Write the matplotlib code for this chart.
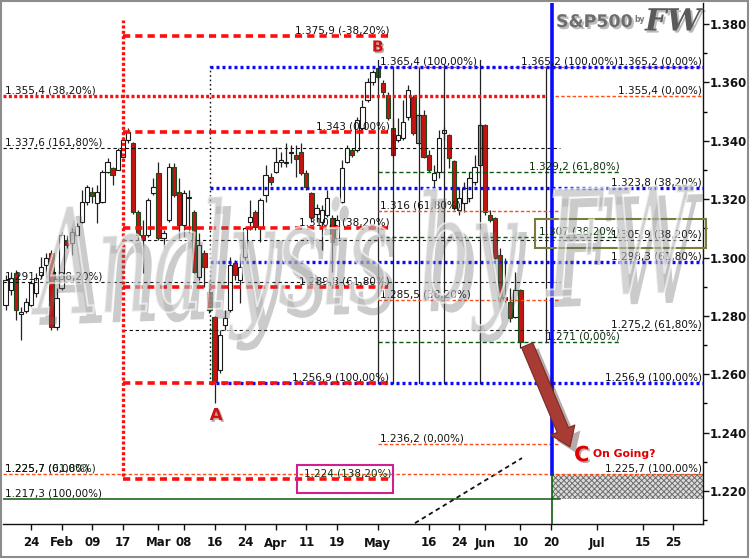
import matplotlib
matplotlib.use('Agg')
import matplotlib.pyplot as plt
import matplotlib.patheffects as pe
import matplotlib.transforms as mtransforms
from matplotlib.patches import Rectangle, PathPatch
from matplotlib.textpath import TextPath
from matplotlib.font_manager import FontProperties
import numpy as np

plt.rcParams['hatch.linewidth'] = 0.7
plt.rcParams['hatch.color'] = '#6e6e6e'

# ---------------- data ----------------
start_index = -5   # trading-day index of first candle (Jan 24 = 0)
opens = [1.2837, 1.2889, 1.2947, 1.2808, 1.2817,
         1.2837, 1.2878, 1.2940, 1.2974, 1.3016, 1.2762, 1.2896, 1.3060, 1.3050, 1.3077,
         1.3122, 1.3190, 1.3224, 1.3187, 1.3190, 1.3293, 1.3307, 1.3300, 1.3344, 1.3403,
         1.3392, 1.3156, 1.3077, 1.3077, 1.3221, 1.3290, 1.3067, 1.3129, 1.3310, 1.3224,
         1.3111, 1.3204, 1.3156, 1.2933, 1.3016, 1.2882, 1.2796, 1.2615, 1.2769, 1.2820,
         1.2981, 1.2923, 1.3002, 1.3122, 1.3156, 1.3104, 1.3214, 1.3276, 1.3293, 1.3327,
         1.3324, 1.3358, 1.3351, 1.3361, 1.3290, 1.3221, 1.3149, 1.3122, 1.3146, 1.3135,
         1.3067, 1.3190, 1.3327, 1.3368, 1.3368, 1.3444, 1.3540, 1.3601, 1.3649, 1.3598,
         1.3557, 1.3444, 1.3403, 1.3409, 1.3481, 1.3550, 1.3392, 1.3488, 1.3351, 1.3266,
         1.3293, 1.3427, 1.3420, 1.3331, 1.3163, 1.3187, 1.3204, 1.3259, 1.3317, 1.3454,
         1.3146, 1.3135, 1.3009, 1.2865, 1.2848, 1.2796, 1.2889]
highs = [1.2940, 1.2950, 1.2957, 1.2830, 1.2861,
         1.2923, 1.2947, 1.3002, 1.3016, 1.3026, 1.2896, 1.3087, 1.3077, 1.3101, 1.3118,
         1.3231, 1.3249, 1.3242, 1.3249, 1.3300, 1.3341, 1.3310, 1.3375, 1.3413, 1.3444,
         1.3396, 1.3163, 1.3129, 1.3204, 1.3273, 1.3327, 1.3094, 1.3324, 1.3324, 1.3273,
         1.3231, 1.3231, 1.3163, 1.3084, 1.3026, 1.2923, 1.2800, 1.2752, 1.2820, 1.3002,
         1.2991, 1.3016, 1.3104, 1.3197, 1.3163, 1.3204, 1.3317, 1.3290, 1.3379, 1.3361,
         1.3392, 1.3385, 1.3385, 1.3392, 1.3300, 1.3224, 1.3183, 1.3180, 1.3231, 1.3146,
         1.3146, 1.3334, 1.3385, 1.3375, 1.3481, 1.3540, 1.3615, 1.3642, 1.3653, 1.3608,
         1.3567, 1.3478, 1.3478, 1.3540, 1.3591, 1.3557, 1.3495, 1.3505, 1.3368, 1.3317,
         1.3437, 1.3447, 1.3424, 1.3334, 1.3242, 1.3259, 1.3293, 1.3351, 1.3461, 1.3457,
         1.3163, 1.3138, 1.3033, 1.2998, 1.2896, 1.2950, 1.2892]
lows = [1.2820, 1.2872, 1.2786, 1.2717, 1.2810,
        1.2830, 1.2865, 1.2930, 1.2933, 1.2752, 1.2752, 1.2889, 1.3033, 1.3009, 1.3070,
        1.3118, 1.3180, 1.3187, 1.3118, 1.3187, 1.3290, 1.3249, 1.3300, 1.3341, 1.3392,
        1.3149, 1.3060, 1.2947, 1.3070, 1.3214, 1.3060, 1.3033, 1.3122, 1.3207, 1.3060,
        1.3070, 1.3084, 1.2947, 1.2923, 1.2899, 1.2810, 1.2500, 1.2605, 1.2752, 1.2813,
        1.2923, 1.2844, 1.2991, 1.3094, 1.3094, 1.3053, 1.3190, 1.3249, 1.3290, 1.3310,
        1.3310, 1.3324, 1.3276, 1.3283, 1.3231, 1.3122, 1.3122, 1.3026, 1.3139, 1.2950,
        1.3043, 1.3187, 1.3324, 1.3344, 1.3361, 1.3437, 1.3533, 1.3591, 1.3608, 1.3553,
        1.3471, 1.3344, 1.3396, 1.3403, 1.3471, 1.3420, 1.3385, 1.3341, 1.3293, 1.3238,
        1.3273, 1.3403, 1.3307, 1.3163, 1.3146, 1.3156, 1.3190, 1.3249, 1.3310, 1.3146,
        1.3122, 1.2995, 1.2848, 1.2848, 1.2779, 1.2793, 1.2690]
closes = [1.2923, 1.2930, 1.2820, 1.2813, 1.2848,
          1.2913, 1.2930, 1.2967, 1.2998, 1.2762, 1.2861, 1.3077, 1.3043, 1.3087, 1.3108,
          1.3190, 1.3242, 1.3211, 1.3224, 1.3293, 1.3327, 1.3283, 1.3368, 1.3403, 1.3430,
          1.3156, 1.3077, 1.3060, 1.3197, 1.3242, 1.3067, 1.3084, 1.3310, 1.3214, 1.3111,
          1.3221, 1.3207, 1.2950, 1.3043, 1.2967, 1.2820, 1.2574, 1.2734, 1.2793, 1.2974,
          1.2940, 1.2967, 1.3101, 1.3139, 1.3104, 1.3197, 1.3283, 1.3259, 1.3327, 1.3334,
          1.3327, 1.3361, 1.3338, 1.3290, 1.3242, 1.3139, 1.3170, 1.3163, 1.3204, 1.3053,
          1.3129, 1.3307, 1.3375, 1.3351, 1.3471, 1.3516, 1.3601, 1.3636, 1.3618, 1.3567,
          1.3478, 1.3351, 1.3420, 1.3464, 1.3574, 1.3427, 1.3488, 1.3344, 1.3300, 1.3290,
          1.3409, 1.3437, 1.3341, 1.3170, 1.3204, 1.3238, 1.3273, 1.3310, 1.3454, 1.3156,
          1.3129, 1.2998, 1.2861, 1.2854, 1.2793, 1.2889, 1.2711]
gray_candles = [76, 88]

x_tick_pos = [0, 6, 12, 18, 25, 30, 36, 42, 48, 54, 60, 68, 78, 84, 89, 96, 102, 111, 120, 126]
x_tick_labels = ['24', 'Feb', '09', '17', 'Mar', '08', '16', '24', 'Apr', '11', '19',
                 'May', '16', '24', 'Jun', '10', '20', 'Jul', '15', '25']
y_major = [1.22, 1.24, 1.26, 1.28, 1.30, 1.32, 1.34, 1.36, 1.38]
y_minor = [1.21, 1.23, 1.25, 1.27, 1.29, 1.31, 1.33, 1.35, 1.37]

red_fib_levels = [1.3759, 1.3430, 1.3101, 1.2898, 1.2569, 1.2240]
red_fib_labels = ['1.375,9 (-38,20%)', '1.343 (0,00%)', '1.310,1 (38,20%)',
                  '1.289,8 (61,80%)', '1.256,9 (100,00%)', '1.224 (138,20%)']
blue_fib_levels = [1.3652, 1.3238, 1.2983, 1.2569]
blue_fib_labels = ['1.365,2 (0,00%)', '1.323,8 (38,20%)', '1.298,3 (61,80%)', '1.256,9 (100,00%)']
black_left_levels = [1.3376, 1.2917]
black_left_labels = ['1.337,6 (161,80%)', '1.291,7 (138,20%)']
black_mid_levels = [1.3059, 1.2752]
black_mid_labels = ['1.305,9 (38,20%)', '1.275,2 (61,80%)']
green_levels = [1.3292, 1.3070, 1.2710]
green_labels = ['1.329,2 (61,80%)', '1.307 (38,20%)', '1.271 (0,00%)']
orange_levels = [1.3160, 1.2855, 1.2362]
orange_labels = ['1.316 (61,80%)', '1.285,5 (38,20%)', '1.236,2 (0,00%)']
level_355 = 1.3554
level_365 = 1.3652
level_365_b = 1.3654
level_2257 = 1.2257
level_2173 = 1.2173
time_lines = [68, 71, 76, 81, 88, 101]
time_line_tops = [1.3677, 1.3653, 1.3653, 1.3660, 1.3677, 1.3653]
time_line_bottoms = [1.2569, 1.2569, 1.2569, 1.2569, 1.2569, 1.2711]
point_A = (36.3, 1.2460)
point_B = (68.0, 1.3721)
point_C = (108.0, 1.2323)

# ---------------- figure ----------------
W, H = 750, 560
fig = plt.figure(figsize=(W / 100, H / 100), dpi=100)
fig.patch.set_facecolor('white')
ax = fig.add_axes([3 / W, 36 / H, 700 / W, 521 / H])
XMIN, XMAX = -5.5, 131.8
YMIN, YMAX = 1.2087, 1.3872
ax.set_xlim(XMIN, XMAX)
ax.set_ylim(YMIN, YMAX)

# candles
xs = np.arange(start_index, start_index + len(opens))
for x, o, h, l, c in zip(xs, opens, highs, lows, closes):
    up = c >= o
    if x in gray_candles:
        face = '#a8a8a8'
    else:
        face = 'white' if up else '#c81212'
    edge = '#1a1a1a' if up else '#1d4a1d'
    ax.vlines(x, l, h, color='#222222', lw=0.9, zorder=2)
    ax.add_patch(Rectangle((x - 0.42, min(o, c)), 0.84, max(abs(c - o), 0.00035),
                           facecolor=face, edgecolor=edge, lw=0.8, zorder=2.5))

# styles
RED_DASH = dict(color='#ff0d0d', lw=2.6, ls=(0, (2.0, 1.4)), zorder=4, solid_capstyle='butt')
RED_DOT = dict(color='#ff0d0d', lw=2.4, ls=(0, (0.9, 0.7)), zorder=4)
BLUE_DOT = dict(color='#0a0aff', lw=2.4, ls=(0, (0.9, 0.9)), zorder=3.5)
BLACK_DASH = dict(color='#111111', lw=0.8, ls=(0, (3, 2.5)), zorder=3)
GREEN_DASH = dict(color='#0d5a0d', lw=1.0, ls=(0, (3, 2)), zorder=3)
ORANGE_DASH = dict(color='#ff4d1a', lw=1.0, ls=(0, (2.5, 1.6)), zorder=3.2)

def hline(y, x0, x1, style):
    ax.plot([x0, x1], [y, y], **style)

def lab(x, y, s, ha='left', color='#111111', dy=0.0002, **kw):
    ax.text(x, y + dy, s, ha=ha, va='bottom', fontsize=7.5, color=color,
            family='DejaVu Sans', zorder=9, **kw)

# hatched zone and rectangles
ax.add_patch(Rectangle((102.2, level_2173), XMAX - 102.2, level_2257 - level_2173,
                       facecolor='#dcdcdc', edgecolor='#6e6e6e', hatch='xxxxxx', lw=0, zorder=1.5))
ax.add_patch(Rectangle((52.2, 1.2194), 71.0 - 52.2, 1.2290 - 1.2194, fill=False,
                       edgecolor='#d01f8f', lw=1.5, zorder=7))
ax.add_patch(Rectangle((98.8, 1.3033), 132.4 - 98.8, 1.3132 - 1.3033, fill=False,
                       edgecolor='#7b7b3a', lw=1.5, zorder=7, clip_on=False))

# black dashed (left fib)
for lv, s in zip(black_left_levels, black_left_labels):
    hline(lv, XMIN, 103.7, BLACK_DASH)
    lab(-5.1, lv, s)
for lv, s in zip(black_mid_levels, black_mid_labels):
    hline(lv, 18.0, XMAX, BLACK_DASH)
    lab(131.6, lv, s, ha='right')

# green dashed
for lv, s in zip(green_levels, green_labels):
    hline(lv, 68.0, 115.5, GREEN_DASH)
    lab(115.5, lv, s, ha='right', color='#0b300b')
hline(level_2173, XMIN, 103.7, dict(color='#0d5a0d', lw=1.1, zorder=3))
lab(-5.1, level_2173, '1.217,3 (100,00%)')

# orange dashed
for lv, s in zip(orange_levels, orange_labels):
    hline(lv, 68.0, 103.7, ORANGE_DASH)
    lab(68.4, lv, s)
hline(level_365, 68.0, XMAX, ORANGE_DASH)
hline(level_2257, XMIN, XMAX, ORANGE_DASH)
hline(level_355, 102.7, XMAX, ORANGE_DASH)
lab(131.6, level_355, '1.355,4 (0,00%)', ha='right')
lab(131.6, level_2257, '1.225,7 (100,00%)', ha='right')
# two labels printed on top of each other at the same level, as in the source chart
lab(-5.1, level_2257, '1.225,7 (61,80%)', color='#0b300b')
lab(-5.1, level_2257, '1.225,7 (0,00%)')

# blue dotted
for lv, s in zip(blue_fib_levels, blue_fib_labels):
    hline(lv, 35.1, XMAX, BLUE_DOT)
    lab(131.6, lv, s, ha='right')
lab(115.1, level_365, '1.365,2 (100,00%)', ha='right')
lab(68.4, level_365_b, '1.365,4 (100,00%)')

# red fib
ax.plot([18.0, 18.0], [1.2250, 1.3814], **RED_DOT)
hline(level_355, XMIN, 100.8, RED_DOT)
lab(-5.1, level_355, '1.355,4 (38,20%)')
for lv, s in zip(red_fib_levels, red_fib_labels):
    hline(lv, 18.0, 70.6, RED_DASH)
    if s.startswith('1.224'):
        lab(53.6, lv, s, color='#0b300b', dy=0.0004)
    else:
        lab(70.3, lv, s, ha='right')

# vertical lines
ax.plot([35.1, 35.1], [1.2569, 1.3667], color='#111111', lw=1.0, ls=(0, (1.2, 2)), zorder=3)
for x, t, b in zip(time_lines, time_line_tops, time_line_bottoms):
    ax.plot([x, x], [b, t], color='#222222', lw=0.9, zorder=3)
ax.plot([102.2, 102.2], [level_2257, YMAX], color='#0a0aff', lw=2.6, zorder=5)
ax.plot([102.2, 102.2], [YMIN, level_2257], color='#0d5a0d', lw=1.2, zorder=5)

# diagonal dashed
ax.plot([75.3, 96.3], [1.2090, 1.2313], color='#111111', lw=1.3, ls=(0, (2.5, 2)), zorder=3)

# arrow
ann = ax.annotate('', xy=(105.7, 1.2351), xytext=(97.3, 1.2700),
                  arrowprops=dict(arrowstyle='simple,head_length=1.2,head_width=1.7,tail_width=0.8',
                                  mutation_scale=11, facecolor='#a83c34', edgecolor='#7a2a24',
                                  lw=0.8, shrinkA=0, shrinkB=0), zorder=8)
ann.arrow_patch.set_path_effects([pe.SimplePatchShadow(offset=(4, -4), alpha=0.35), pe.Normal()])

# A B C labels
letter_fx = [pe.withSimplePatchShadow(offset=(1.2, -1.2), alpha=0.35)]
ax.text(*point_A, 'A', color='#d01010', fontsize=12, weight='bold', ha='center', va='center',
        zorder=9, path_effects=letter_fx)
ax.text(*point_B, 'B', color='#d01010', fontsize=11, weight='bold', ha='center', va='center',
        zorder=9, path_effects=letter_fx)
ax.text(*point_C, 'C', color='#e00000', fontsize=15, weight='bold', ha='center', va='center',
        zorder=9, path_effects=letter_fx)
ax.text(110.2, 1.2327, 'On Going?', color='#e00000', fontsize=7.8, weight='bold', ha='left',
        va='center', zorder=9)

# axes styling
for side in ['left', 'top']:
    ax.spines[side].set_visible(False)
for side in ['right', 'bottom']:
    ax.spines[side].set_color('#111111')
    ax.spines[side].set_linewidth(1.0)
ax.yaxis.tick_right()
ax.set_yticks(y_major)
ax.set_yticklabels([f'{v:.3f}' for v in y_major])
ax.set_yticks(y_minor, minor=True)
ax.tick_params(axis='y', which='major', direction='out', length=4, width=1, pad=1,
               labelsize=8.5, colors='#111111')
ax.tick_params(axis='y', which='minor', direction='out', length=3, width=1)
for t in ax.get_yticklabels():
    t.set_fontweight('bold')
ax.set_xticks(x_tick_pos)
ax.set_xticklabels(x_tick_labels)
ax.tick_params(axis='x', direction='out', length=4, width=1, pad=5, labelsize=8.5, colors='#111111')
for t in ax.get_xticklabels():
    t.set_fontweight('bold')

# figure border
fig.patches.append(Rectangle((1 / W, 3 / H), 747 / W, 556 / H, transform=fig.transFigure,
                             fill=False, edgecolor='#8c8c8c', lw=1.5))

# watermark "Analysis by FW"
fp = FontProperties(family='DejaVu Serif', style='italic', weight='normal')
tp = TextPath((0, 0), 'Analysis by FW', size=100, prop=fp)
bb = tp.get_extents()
sx = 668 / bb.width
sy = 145 / bb.height
tr = (mtransforms.Affine2D().translate(-bb.x0, -bb.y0).scale(sx, sy)
      .rotate_deg(2).translate(32, H - 348))
wm = PathPatch(tr.transform_path(tp), facecolor='#b8b8b8', edgecolor='white', lw=1.4,
               alpha=0.62, transform=mtransforms.IdentityTransform(), zorder=10)
wm.set_path_effects([pe.SimplePatchShadow(offset=(6, -7), shadow_rgbFace='#6a6a6a', alpha=0.35),
                     pe.Normal()])
fig.add_artist(wm)

# logo
logo_fx = [pe.withSimplePatchShadow(offset=(1.5, -1.5), alpha=0.3)]
fig.text(556 / W, 1 - 22 / H, 'S&P500', fontsize=12.5, weight='bold', color='#6e6e6e',
         ha='left', va='center', path_effects=logo_fx)
fig.text(634 / W, 1 - 19 / H, 'by', fontsize=5.5, weight='bold', color='#777777',
         ha='left', va='center')
fig.text(645 / W, 1 - 22 / H, 'FW', fontsize=22, family='DejaVu Serif', style='italic',
         weight='bold', color='#5a5a5a', ha='left', va='center', path_effects=logo_fx)

fig.savefig('out.png', dpi=100)
